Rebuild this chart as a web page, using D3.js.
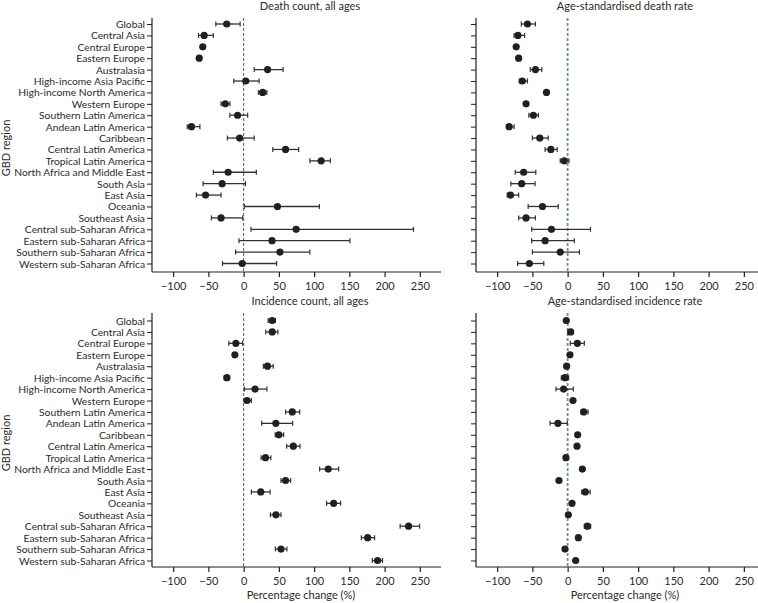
<!DOCTYPE html>
<html><head><meta charset="utf-8">
<script src="https://cdn.jsdelivr.net/npm/d3@7"></script>
<style>
body{margin:0;background:#fff;}
svg{display:block;font-family:Lato,"Open Sans",sans-serif;}
</style></head>
<body><svg id="c" width="758" height="603"></svg>
<script>
const regions = ["Global","Central Asia","Central Europe","Eastern Europe","Australasia","High-income Asia Pacific","High-income North America","Western Europe","Southern Latin America","Andean Latin America","Caribbean","Central Latin America","Tropical Latin America","North Africa and Middle East","South Asia","East Asia","Oceania","Southeast Asia","Central sub-Saharan Africa","Eastern sub-Saharan Africa","Southern sub-Saharan Africa","Western sub-Saharan Africa"];

// [mean, lower, upper] per region
const deathCount = [[-24,-39.5,-5],[-56,-64,-43],[-58,-61,-55],[-63,-65,-61],[34,15,56],[3,-14,22],[27,21,33],[-26,-32,-19.5],[-8.6,-19.5,5.7],[-74,-80,-62],[-5.7,-23,15],[59.5,41.4,78],[110,94,123],[-22,-43,18],[-30.5,-57.6,2.5],[-54,-67,-32],[48,1,107.5],[-32,-45.7,-1.2],[74.5,10.4,241],[40.3,-6.6,150.8],[51.5,-11.4,94],[-2,-30,46.8]];
const deathRate = [[-57,-65.7,-45.7],[-70.5,-76,-61],[-73,-75.5,-70.5],[-69.5,-72,-67],[-45.7,-53,-36.7],[-64.3,-68.6,-57],[-30,-32,-28],[-59,-61.5,-56.5],[-48.6,-55,-41.4],[-83,-86.7,-76],[-39.5,-50,-27.6],[-23.8,-32,-14.8],[-4.8,-10.5,1.9],[-62.4,-74.3,-45.2],[-65.2,-80.5,-46.2],[-81,-85.7,-69.5],[-35.7,-56,-13.3],[-59,-69.5,-45.7],[-22.9,-51,32.4],[-31.9,-51,9.5],[-10.5,-50,16.7],[-54.3,-71,-33.8]];
const incidenceCount = [[40.5,34.8,45],[40.5,31.4,48.6],[-11,-21,-1.4],[-12.4,-15,-10],[33.8,28,42],[-23.8,-27.5,-20],[16.2,1,33],[4.8,1,11],[69,59.5,79.5],[45.7,25.7,69.5],[50,44.8,56.7],[70.5,61,80],[31,24.8,38.6],[120,107.8,134.8],[59.5,53,66.7],[24.3,11,37.6],[127.7,117.7,137.6],[45.8,38,53],[234,222,249.6],[176,167,185.8],[53,45,61.4],[190,182.5,197]];
const incidenceRate = [[-1.9,-4,0.5],[4.3,1,7.5],[13.8,3.8,23.7],[3.3,1,5.5],[-1.4,-3.5,1],[-3.8,-9,1.4],[-5.7,-16.6,8],[7.6,5.5,9.7],[22.8,19,29],[-13.8,-25,-0.5],[14.2,12,16.4],[13.3,11,15.5],[-2.4,-4.5,-0.3],[20.9,18.5,23.3],[-12.3,-14.5,-10],[25.1,20,32],[6.2,4,8.5],[1,-1.2,3.2],[28,23.7,32.7],[15.2,13,17.5],[-3.8,-6,-1.5],[11.4,9,13.8]];

const xTicks = [-100,-50,0,50,100,150,200,250];
const titles = ["Death count, all ages","Age-standardised death rate","Incidence count, all ages","Age-standardised incidence rate"];
const xLabel = "Percentage change (%)";
const yLabel = "GBD region";

const svg = d3.select("#c");
const ink = "#231f20";

const panels = [
  {data: deathCount, title: titles[0], x0:152, top:18, bottom:272, r0:24, r1:263.5, labels:true, xlab:false, dashW:1, titleX:310, titleY:10},
  {data: deathRate, title: titles[1], x0:476, top:18, bottom:272, r0:24, r1:263.5, labels:false, xlab:false, dashW:1.8, titleX:625, titleY:10},
  {data: incidenceCount, title: titles[2], x0:152, top:313, bottom:567, r0:320.5, r1:560.5, labels:true, xlab:true, dashW:1, titleX:310, titleY:305},
  {data: incidenceRate, title: titles[3], x0:476, top:313, bottom:567, r0:320.5, r1:560.5, labels:false, xlab:true, dashW:1.8, titleX:625, titleY:305}
];

panels.forEach(p => {
  const x = d3.scaleLinear().domain([-130,280]).range([p.x0, p.x0+289]);
  const y = d3.scalePoint().domain(regions).range([p.r0, p.r1]);
  const g = svg.append("g");

  // y axis
  const ya = g.append("g").attr("transform",`translate(${p.x0},0)`)
    .call(d3.axisLeft(y).tickSize(5).tickPadding(2).tickFormat(p.labels ? (d=>d) : (()=>"")));
  ya.select(".domain").remove();
  ya.selectAll(".tick line").attr("stroke",ink).attr("stroke-width",1);
  ya.selectAll(".tick text").attr("fill","#2b2b2b").attr("dy","0.34em").style("font-size","10.3px").style("font-family","Lato,'Open Sans',sans-serif");
  g.append("line").attr("x1",p.x0).attr("x2",p.x0).attr("y1",p.top).attr("y2",p.bottom).attr("stroke",ink).attr("stroke-width",1.2);

  // x axis
  const xa = g.append("g").attr("transform",`translate(0,${p.bottom})`)
    .call(d3.axisBottom(x).tickValues(xTicks).tickSize(5).tickPadding(5).tickFormat(d=>d<0?"\u2212"+Math.abs(d):d));
  xa.select(".domain").remove();
  xa.selectAll(".tick line").attr("stroke",ink).attr("stroke-width",1.2);
  xa.selectAll(".tick text").attr("fill","#2b2b2b").style("font-size","11px").style("font-family","Lato,'Open Sans',sans-serif");
  g.append("line").attr("x1",p.x0).attr("x2",p.x0+289).attr("y1",p.bottom).attr("y2",p.bottom).attr("stroke",ink).attr("stroke-width",1.2);

  // zero line
  g.append("line").attr("x1",x(0)).attr("x2",x(0)).attr("y1",p.top).attr("y2",p.bottom)
    .attr("stroke", p.dashW>1 ? "#6f8d9c" : "#3f5f73").attr("stroke-width",p.dashW)
    .attr("stroke-dasharray","3,2");

  // error bars
  const rows = g.selectAll(".row").data(p.data.map((d,i)=>({r:regions[i],m:d[0],lo:d[1],hi:d[2]}))).enter().append("g");
  rows.append("line").attr("x1",d=>x(d.lo)).attr("x2",d=>x(d.hi)).attr("y1",d=>y(d.r)).attr("y2",d=>y(d.r))
    .attr("stroke","#333").attr("stroke-width",1.3);
  rows.append("line").attr("x1",d=>x(d.lo)).attr("x2",d=>x(d.lo)).attr("y1",d=>y(d.r)-2.5).attr("y2",d=>y(d.r)+2.5)
    .attr("stroke","#333").attr("stroke-width",1.2);
  rows.append("line").attr("x1",d=>x(d.hi)).attr("x2",d=>x(d.hi)).attr("y1",d=>y(d.r)-2.5).attr("y2",d=>y(d.r)+2.5)
    .attr("stroke","#333").attr("stroke-width",1.2);
  rows.append("circle").attr("cx",d=>x(d.m)).attr("cy",d=>y(d.r)).attr("r",3.6).attr("fill",ink);

  // title
  g.append("text").attr("x",p.titleX).attr("y",p.titleY).attr("text-anchor","middle")
    .style("font-size","11px").attr("fill","#2b2b2b").text(p.title);
  if (p.xlab) {
    g.append("text").attr("x",p.x0+149).attr("y",599).attr("text-anchor","middle")
      .style("font-size","11px").attr("fill","#2b2b2b").text(xLabel);
  }
  if (p.labels) {
    g.append("text").attr("transform",`translate(10,${(p.top+p.bottom)/2+3}) rotate(-90)`).attr("text-anchor","middle")
      .style("font-size","11px").attr("fill","#2b2b2b").text(yLabel);
  }
});
</script></body></html>
